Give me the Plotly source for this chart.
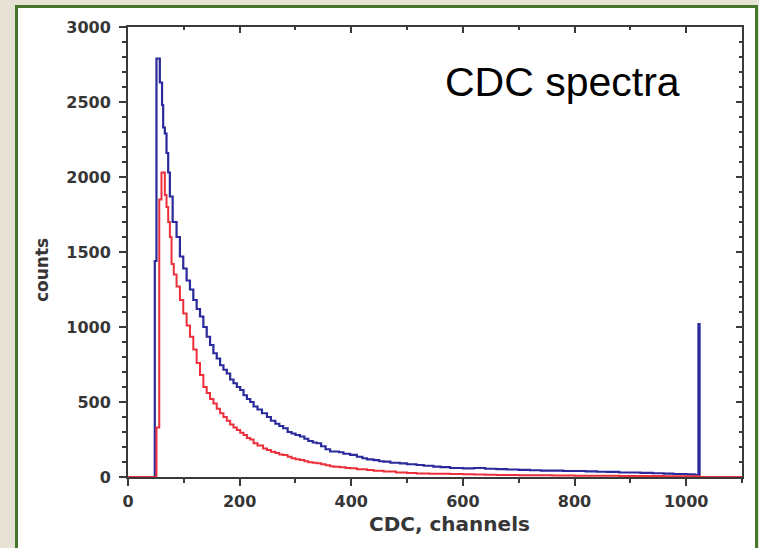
import plotly.graph_objects as go

# ---- data ----
blue_channels = [0, 47, 48, 51, 57, 61, 63, 66, 69, 72, 75, 80, 87, 93, 99, 105, 111, 117, 123, 129,
                 135, 141, 147, 153, 159, 165, 171, 177, 183, 189, 195, 201, 207, 213, 219, 225, 232,
                 240, 249, 256, 264, 271, 278, 286, 293, 300, 308, 316, 323, 331, 338, 346, 354, 362,
                 370, 378, 386, 398, 410, 420, 428, 440, 450, 458, 470, 487, 500, 517, 530, 547, 560,
                 577, 600, 620, 640, 660, 679, 700, 720, 740, 760, 780, 798, 820, 840, 858, 880, 900,
                 918, 940, 960, 977, 1000, 1015, 1022, 1024]
blue_counts = [0, 0, 1440, 2790, 2630, 2480, 2330, 2290, 2160, 2030, 1870, 1700, 1600, 1470, 1390, 1310,
               1250, 1180, 1120, 1070, 1000, 935, 880, 825, 790, 745, 715, 690, 650, 625, 600, 580, 545,
               520, 500, 470, 450, 425, 400, 375, 355, 340, 325, 300, 290, 280, 270, 255, 240, 230, 225,
               205, 185, 170, 170, 165, 155, 147, 135, 125, 118, 112, 105, 102, 95, 91, 85, 80, 75, 69,
               66, 60, 58, 60, 55, 52, 50, 47, 45, 43, 42, 40, 40, 38, 35, 34, 30, 30, 28, 25, 22, 20,
               18, 15, 1020, 0]

red_channels = [0, 50, 51, 56, 60, 66, 69, 72, 75, 78, 82, 87, 93, 99, 105, 111, 117, 123, 129, 135,
                141, 147, 153, 159, 165, 171, 177, 183, 189, 195, 201, 207, 213, 219, 225, 232, 242,
                249, 256, 264, 271, 278, 286, 293, 300, 308, 316, 323, 331, 338, 346, 354, 362, 368,
                380, 390, 398, 410, 428, 440, 458, 480, 500, 517, 540, 560, 577, 600, 620, 640, 660,
                680, 700, 720, 740, 760, 780, 800, 820, 840, 860, 880, 900, 920, 940, 960, 980, 1000,
                1022, 1024, 1100]
red_counts = [0, 0, 330, 1850, 2030, 1880, 1800, 1700, 1600, 1420, 1350, 1270, 1180, 1090, 1010, 935,
              850, 760, 680, 600, 560, 520, 490, 455, 425, 400, 375, 350, 330, 313, 295, 280, 260, 250,
              225, 210, 190, 180, 168, 160, 150, 147, 135, 125, 118, 113, 105, 98, 95, 91, 85, 78, 72,
              69, 65, 60, 58, 52, 47, 42, 36, 30, 27, 24, 22, 21, 20, 18, 17, 15, 14, 13, 12, 12, 11,
              10, 10, 9, 9, 8, 8, 7, 7, 6, 6, 5, 5, 5, 5, 0, 0]

x_tick_values = [0, 200, 400, 600, 800, 1000]
y_tick_values = [0, 500, 1000, 1500, 2000, 2500, 3000]

x_title = "CDC, channels"
y_title = "counts"
chart_label = "CDC spectra"

BLUE = "#2a2a9c"
RED = "#ec2f3a"
AXIS = "#3a3a3a"
TICKFONT = dict(family="DejaVu Sans", size=16, color="#363636", weight="bold")

fig = go.Figure()
fig.add_trace(go.Scatter(x=blue_channels, y=blue_counts, mode="lines", line_shape="hv",
                         line=dict(color=BLUE, width=2.2), showlegend=False, hoverinfo="skip"))
fig.add_trace(go.Scatter(x=red_channels, y=red_counts, mode="lines", line_shape="hv",
                         line=dict(color=RED, width=2), showlegend=False, hoverinfo="skip"))
# empty trace so the inward-ticked top/right axes get drawn
fig.add_trace(go.Scatter(x=[None], y=[None], xaxis="x2", yaxis="y2", showlegend=False,
                         hoverinfo="skip"))

common = dict(showgrid=False, zeroline=False, showline=True, linecolor=AXIS, linewidth=2,
              tickcolor=AXIS, tickwidth=2)

fig.update_layout(
    width=759, height=548,
    margin=dict(l=128, r=17, t=27, b=71),
    paper_bgcolor="#e7e3d4",
    plot_bgcolor="white",
    xaxis=dict(range=[0, 1100], tickvals=x_tick_values, ticks="outside", ticklen=7,
               tickfont=TICKFONT, ticklabelstandoff=2,
               minor=dict(ticks="outside", dtick=100, tick0=0, ticklen=4, tickcolor=AXIS, tickwidth=2),
               **common),
    yaxis=dict(range=[0, 3000], tickvals=y_tick_values, ticks="outside", ticklen=7,
               tickfont=TICKFONT, ticklabelstandoff=5,
               minor=dict(ticks="outside", dtick=100, tick0=0, ticklen=4, tickcolor=AXIS, tickwidth=2),
               **common),
    xaxis2=dict(range=[0, 1100], overlaying="x", side="top", anchor="y2",
                tickvals=x_tick_values, ticks="inside", ticklen=6, showticklabels=False,
                minor=dict(ticks="inside", dtick=100, tick0=0, ticklen=3, tickcolor=AXIS, tickwidth=2),
                **common),
    yaxis2=dict(range=[0, 3000], overlaying="y", side="right", anchor="x2",
                tickvals=y_tick_values, ticks="inside", ticklen=6, showticklabels=False,
                minor=dict(ticks="inside", dtick=100, tick0=0, ticklen=3, tickcolor=AXIS, tickwidth=2),
                **common),
    shapes=[dict(type="rect", xref="paper", yref="paper", layer="below",
                 x0=-0.1816, x1=1.0236, y0=-0.2, y1=1.0456,
                 fillcolor="white", line=dict(color="#46752c", width=3))],
    annotations=[
        dict(text=f"<b>{x_title}</b>", xref="paper", yref="paper", x=0.5244, y=-0.104,
             xanchor="center", yanchor="middle", showarrow=False,
             font=dict(family="DejaVu Sans", size=20, color="#363636")),
        dict(text=f"<b>{y_title}</b>", xref="paper", yref="paper", x=-0.140, y=0.46,
             xanchor="center", yanchor="middle", textangle=-90, showarrow=False,
             font=dict(family="DejaVu Sans", size=17, color="#363636")),
        dict(text=chart_label, xref="paper", yref="paper", x=0.513, y=0.878,
             xanchor="left", yanchor="middle", showarrow=False,
             font=dict(family="Liberation Sans, Arial", size=41, color="black")),
    ],
)

fig.write_html("out.html", config={"displayModeBar": False},
               post_script="document.body.style.margin='0';document.body.style.overflow='hidden';")
